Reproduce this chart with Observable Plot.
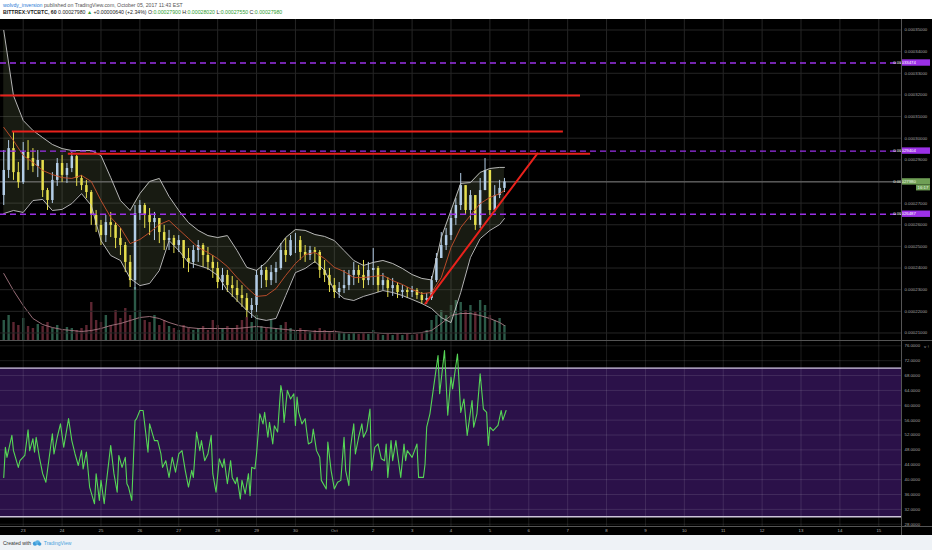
<!DOCTYPE html>
<html>
<head>
<meta charset="utf-8">
<script src="https://cdn.jsdelivr.net/npm/d3@7"></script>
<script src="https://cdn.jsdelivr.net/npm/@observablehq/plot@0.6"></script>
<style>
  html,body{margin:0;padding:0;}
  body{width:932px;height:550px;overflow:hidden;background:#eef2f6;font-family:"Liberation Sans",Arial,sans-serif;position:relative;}
  #hdr{position:absolute;left:0;top:0;width:932px;height:19px;background:#fff;}
  #hdr .ln{position:absolute;left:3px;font-size:5.2px;line-height:6px;white-space:nowrap;color:#555;}
  #hdr .g{color:#2f9e2f;}
  #chart{position:absolute;left:0;top:19px;width:932px;height:515.5px;background:#000;overflow:hidden;}
  .layer{position:absolute;left:0;}
  .layer svg{display:block;overflow:visible;}
  .sep{position:absolute;background:#4a4a4a;}
  #ftr{position:absolute;left:3px;top:539.5px;font-size:5px;line-height:6px;color:#333;white-space:nowrap;}
</style>
</head>
<body>
<div id="hdr">
  <div class="ln" style="top:2.3px"><span style="color:#2b7bd6">wolvdy_inversion</span> published on TradingView.com, October 05, 2017 11:43 EST</div>
  <div class="ln" style="top:9.2px;color:#222"><b>BITTREX:VTCBTC, 60</b> 0.00027980 <span class="g">▲</span> +0.00000640 (+2.34%) O:<span class="g">0.00027900</span> H:<span class="g">0.00028020</span> L:<span class="g">0.00027550</span> C:<span class="g">0.00027980</span></div>
</div>
<div id="chart">
  <div id="vol" class="layer" style="top:0"></div>
  <div id="price" class="layer" style="top:0"></div>
  <div id="rsi" class="layer" style="top:322px"></div>
  <div class="sep" style="left:0;top:321px;width:932px;height:1px;background:#555"></div>
  <div class="sep" style="left:0;top:507px;width:932px;height:1px;background:#555"></div>
  <div class="sep" style="left:901px;top:0;width:1px;height:516px;background:#555"></div>
</div>
<div id="ftr">Created with <svg width="10" height="6" viewBox="0 0 10 6" style="vertical-align:-1px"><circle cx="3" cy="3.6" r="2.2" fill="#3d9bd9"/><circle cx="5.6" cy="2.6" r="2.4" fill="#5fb3e6"/><circle cx="7.6" cy="4" r="1.8" fill="#3d9bd9"/></svg> <span style="color:#4aa3dc">TradingView</span></div>

<script>
// ---------- DATA ----------
// x axis: days since Sep 23 00:00 (labels at midnight)
const dayTicks = [0,1,2,3,4,5,6,7,8,9,10,11,12,13,14,15,16,17,18,19,20,21,22];
const dayLabels = ["23","24","25","26","27","28","29","30","Oct","2","3","4","5","6","7","8","9","10","11","12","13","14","15"];
// price axis ticks (satoshi)
const priceTicks = [21000,22000,23000,24000,25000,26000,27000,28000,29000,30000,31000,32000,33000,34000,35000];
const rsiTicks = [28,32,36,40,44,48,52,56,60,64,68,72,76];

// 3-hour candles starting Sep 22 12:00, prices in satoshi
const firstOpen = 27350;
const candleClose = [28510,29520,28410,27950,29340,29060,28690,28970,27580,27120,
 28050,28830,28280,28600,29150,28140,27810,27490,26430,25970,
 25500,26100,25970,25370,25040,24260,23420,26520,26890,26430,
 26100,26290,25640,25270,25370,25040,25270,24440,24260,24810,
 25040,24580,24260,23980,23330,23660,23190,23050,22730,22590,
 22040,22270,23660,23890,23420,23790,23980,24810,24580,25270,
 25270,24720,24580,24810,24720,23890,23660,23190,22870,23050,
 23190,23660,23890,23660,23420,23890,23980,23190,23420,23050,
 23190,22870,22960,22870,22960,22730,22500,22590,23420,24440,
 25040,25500,26290,26890,27810,26660,27350,25970,27580,28510,
 26660,27350,27680,27980];
const candleHigh = [29430,29890,30260,28880,29800,29890,29520,29430,28970,27680,
 28410,29060,29200,28830,29340,29200,28280,28050,27580,26660,
 26200,26430,26570,26100,25830,25180,24580,26890,27120,26980,
 26750,26570,26290,25970,25740,25500,25500,25270,24900,25040,
 25270,25130,24950,24580,24260,23980,23890,23610,23420,23190,
 22820,22590,23890,24120,24030,24120,24260,25130,25370,25500,
 25600,25460,25040,25000,24950,24810,24350,23980,23520,23330,
 23890,23890,24260,24120,24350,24260,24900,24070,23750,23560,
 23520,23330,23190,23100,23150,23050,22870,22820,23610,24670,
 25640,25830,26660,27210,28370,27810,27580,27350,28140,29060,
 28510,27810,28050,28140];
const candleLow = [26890,28140,28050,27680,27860,28510,28410,28180,27260,26660,
 26980,27770,27950,27910,28410,27770,27580,27210,25970,25640,
 25040,25180,25410,24900,24580,23790,23100,22960,26200,25830,
 25500,25270,25130,24810,24810,24670,24720,23980,23790,23980,
 24260,24030,23890,23520,23050,22960,22870,22640,22410,22180,
 21710,21670,21950,23050,23100,23190,23290,23890,24260,24530,
 24670,24350,24260,24350,24210,23520,23330,22870,22590,22590,
 22820,22960,23190,23290,23050,23190,23190,22870,22960,22640,
 22690,22590,22590,22590,22640,22550,22320,22320,22500,23330,
 24440,24810,25270,25970,26660,26430,26200,25740,25830,27580,
 26430,26570,27210,27490];
const volume = [20,25,18,15,22,14,12,16,14,18,
 12,15,10,13,12,10,12,15,38,20,
 18,25,15,30,22,32,25,53,30,20,
 18,25,15,20,14,12,10,15,12,10,
 12,14,10,20,15,12,14,12,15,20,
 23,18,25,14,12,20,12,15,18,12,
 10,12,10,8,10,12,10,8,10,8,
 8,6,7,6,8,6,10,6,5,6,
 5,7,5,6,5,6,8,10,20,25,
 30,25,35,40,38,30,35,28,40,35,
 25,20,22,15];

// Bollinger bands (20) and volume MA, sampled every 6 hours
const bbUpper = [34980,31970,30820,30360,30030,29710,29520,29430,29430,29430,29200,28180,27120,26660,27440,28000,28140,27310,26660,26100,25740,25500,25410,25500,24810,24030,23890,24260,24810,25410,25780,25740,25550,25460,25270,24810,24350,24120,24260,24350,24210,23980,23700,23520,23450,25410,26660,27910,27950,28420,28600,28650,28650];
const bbMiddle = [30500,29890,29200,28880,28510,28320,28180,28140,28280,28000,27120,26340,25870,25130,25320,25640,26010,26200,25780,25370,24950,24720,24440,24070,23560,23100,22690,22730,23050,23660,24210,24620,24720,24440,24030,23840,23560,23560,23610,23660,23420,23240,23010,22820,22870,23560,24950,25870,26430,26980,27260,27440,27580];
const bbLower = [26520,26660,26570,27120,27170,26660,26710,26980,27440,26890,25270,24580,24350,23520,23190,23290,23890,25270,24810,24260,24120,23980,23660,22960,22500,22040,21670,21580,21670,22730,23790,23980,24300,23890,22960,22590,22500,22690,22820,22960,22870,22730,22550,22360,22130,21710,21480,22870,24490,25360,25740,26010,26290];
const volMA = [67,50,35,22,16,13,11,10,9,10,12,15,17,20,23,24,22,18,15,13,12,12,12,12,12,13,14,13,12,11,10,10,9,9,9,8,8,8,8,7,7,7,7,8,10,17,25,27,27,25,22,18,15];

// drawings
const purpleLevels = [33474, 29404, 26487];
const redLevels = [31970, 30310, 29280];
const redStart = [-0.58, -0.28, 1.16];
const redEnd = [14.33, 13.89, 14.59];
const trendLine = [[10.34, 22360], [13.22, 29290]];
const lastPrice = 27980;
const countdown = "16:17";

// RSI(14): [hour since Sep 22 12:00, value]
const rsiPoints = [[0,40.6],[1,48.7],[2,46.0],[5,51.9],[6,47.8],[9,43.3],[10,45.1],[13,46.5],[15,53.4],[16,47.8],[18,51.0],[19,47.4],[20,51.4],[22,46.0],[24,41.6],[26,39.3],[30,52.3],[31,46.9],[33,51.4],[35,55.0],[37,48.7],[40,56.4],[42,50.5],[44,46.9],[46,43.8],[48,47.8],[49,42.9],[51,47.4],[53,38.0],[56,33.5],[57,41.6],[59,34.4],[60,39.8],[62,33.5],[63,38.0],[66,49.2],[68,41.6],[70,36.6],[71,46.5],[73,43.3],[75,46.0],[76,38.9],[77,38.0],[79,34.4],[81,55.9],[82,56.4],[84,58.6],[86,58.6],[89,47.4],[90,55.0],[93,50.5],[95,50.5],[97,46.9],[98,43.3],[100,45.1],[102,40.6],[104,46.0],[106,42.0],[108,46.9],[110,47.8],[112,42.5],[114,38.0],[116,42.5],[117,40.6],[119,52.8],[121,47.8],[122,50.5],[124,45.1],[126,46.9],[128,51.9],[129,41.6],[131,36.6],[133,45.6],[135,43.3],[136,45.6],[138,38.9],[140,45.1],[141,40.6],[143,38.9],[144,40.6],[146,34.8],[147,39.8],[149,36.2],[151,41.6],[152,35.7],[153,43.3],[155,42.9],[156,46.9],[158,57.7],[160,55.0],[161,58.1],[163,51.4],[164,55.4],[166,49.6],[167,54.5],[169,52.8],[171,65.3],[172,63.1],[173,55.4],[175,64.0],[177,61.7],[179,63.1],[180,54.6],[181,62.2],[182,58.1],[184,55.0],[186,56.4],[187,52.8],[188,49.6],[190,50.1],[191,53.6],[193,47.8],[195,46.0],[196,39.8],[199,37.5],[200,50.1],[202,42.5],[204,37.5],[206,39.3],[208,39.8],[210,51.4],[211,42.5],[213,38.4],[214,48.7],[216,55.0],[217,46.9],[219,51.4],[221,55.0],[222,51.4],[224,53.2],[226,59.0],[227,42.5],[229,48.7],[231,49.6],[233,45.6],[235,45.1],[236,49.6],[237,40.6],[239,50.5],[240,45.1],[242,50.5],[243,46.9],[245,40.6],[247,49.6],[248,45.1],[249,47.8],[252,46.0],[255,49.6],[256,40.6],[259,40.6],[260,44.2],[261,54.1],[263,57.7],[265,64.0],[268,73.4],[269,63.1],[272,74.7],[274,57.3],[276,67.6],[277,64.4],[280,73.8],[282,58.1],[284,61.7],[286,51.9],[289,61.3],[290,54.1],[292,57.7],[294,68.5],[296,59.0],[298,58.1],[299,49.2],[300,54.1],[302,53.2],[305,54.6],[307,58.6],[308,56.0],[310,58.6]];

// ---------- BUILD ----------
const hourToDay = h => -0.5 + h / 24;
const candles = candleClose.map((c, i) => {
  const o = i === 0 ? firstOpen : candleClose[i - 1];
  return {day: hourToDay(i * 3), open: o, close: c,
          high: Math.max(candleHigh[i], o, c), low: Math.min(candleLow[i], o, c),
          vol: volume[i], up: c >= o};
});
const bandHours = d3.range(0, 312, 6).concat([309]);
const bands = bandHours.map((h, k) => ({day: hourToDay(h), upper: bbUpper[k], middle: bbMiddle[k], lower: bbLower[k], vma: volMA[k]}));
const rsi = rsiPoints.map(([h, v]) => ({day: hourToDay(h), v}));
const redLines = redLevels.map((p, i) => ({p, x1: redStart[i], x2: redEnd[i]}));
const trend = trendLine.map(([d, p]) => ({d, p}));
// the last-price label covers the axis tick beneath it
const axisPriceTicks = priceTicks.filter(t => Math.abs(t - lastPrice) > 400);

const X0 = -0.5837, X1 = 22.584;
const W = 932, MR = 31;
const common = {width: W, marginLeft: 0, marginRight: MR, marginTop: 0,
  x: {type: "linear", domain: [X0, X1], axis: null},
  style: {background: "transparent", color: "#a8a8a8", fontFamily: "Liberation Sans, Arial, sans-serif", fontSize: "4.3px", overflow: "visible"}};

const upC = "#b3cde6", dnC = "#e6df4e";
const grid = "#252525";

// volume layer (behind)
const volPlot = Plot.plot({...common, height: 321, marginBottom: 0,
  y: {domain: [0, 321], axis: null},
  marks: [
    Plot.ruleX(candles, {x: "day", y1: 0, y2: "vol", stroke: d => d.up ? "#2c5a48" : "#5c2631", strokeWidth: 2.4}),
    Plot.lineY(bands, {x: "day", y: "vma", stroke: "#a77883", strokeWidth: 0.9})
  ]});
document.getElementById("vol").appendChild(volPlot);

// price layer
const pricePlot = Plot.plot({...common, height: 321, marginBottom: 0,
  y: {domain: [20652, 35485], axis: null},
  marks: [
    Plot.ruleY(priceTicks, {stroke: grid, strokeWidth: 1}),
    Plot.ruleX(dayTicks, {stroke: grid, strokeWidth: 1}),
    Plot.areaY(bands, {x: "day", y1: "lower", y2: "upper", fill: "#8d9e68", fillOpacity: 0.17}),
    Plot.ruleY([lastPrice], {stroke: "#7c7c7c", strokeWidth: 1}),
    Plot.ruleX(candles, {x: "day", y1: "low", y2: "high", stroke: d => d.up ? upC : dnC, strokeWidth: 1}),
    Plot.ruleX(candles, {x: "day", y1: "open", y2: "close", stroke: d => d.up ? upC : dnC, strokeWidth: 2.5}),
    Plot.lineY(bands, {x: "day", y: "upper", stroke: "#c8c8c8", strokeWidth: 0.9}),
    Plot.lineY(bands, {x: "day", y: "lower", stroke: "#c8c8c8", strokeWidth: 0.9}),
    Plot.lineY(bands, {x: "day", y: "middle", stroke: "#c8502c", strokeWidth: 0.9}),
    Plot.ruleY(purpleLevels, {stroke: "#9a30e8", strokeWidth: 1.4, strokeDasharray: "6,4"}),
    Plot.ruleY(redLines, {y: "p", x1: "x1", x2: "x2", stroke: "#e8221c", strokeWidth: 2}),
    Plot.line(trend, {x: "d", y: "p", stroke: "#e8221c", strokeWidth: 2}),
    Plot.axisY(axisPriceTicks, {anchor: "right", tickSize: 0, tickPadding: 3, fontSize: 4.3, fill: "#a8a8a8",
      tickFormat: d => (d / 1e8).toFixed(8)})
  ]});
document.getElementById("price").appendChild(pricePlot);

// price labels on the axis
{
  const ys = pricePlot.scale("y");
  const svg = d3.select(pricePlot);
  const g = svg.append("g").attr("font-size", 4.3).attr("font-family", "Liberation Sans, Arial, sans-serif");
  const xl = W - MR + 1;
  purpleLevels.forEach(v => {
    const y = ys.apply(v);
    g.append("rect").attr("x", xl).attr("y", y - 3.2).attr("width", 28).attr("height", 6.4).attr("fill", "#9b30e6");
    g.append("text").attr("x", xl + 2.5).attr("y", y).attr("dy", "0.35em").attr("fill", "#fff").text((v / 1e8).toFixed(8));
  });
  const y = ys.apply(lastPrice);
  g.append("rect").attr("x", xl).attr("y", y - 3.2).attr("width", 28).attr("height", 6.4).attr("fill", "#6f9f55");
  g.append("text").attr("x", xl + 2.5).attr("y", y).attr("dy", "0.35em").attr("fill", "#eef8e6").text((lastPrice / 1e8).toFixed(8));
  g.append("rect").attr("x", xl + 14).attr("y", y + 3.4).attr("width", 14).attr("height", 5.6).attr("fill", "#6f9f55");
  g.append("text").attr("x", xl + 21).attr("y", y + 6.2).attr("dy", "0.35em").attr("text-anchor", "middle").attr("fill", "#eef8e6").text(countdown);
}

// RSI layer with date axis
const rsiPlot = Plot.plot({...common, height: 193, marginBottom: 8,
  y: {domain: [27.39, 77.16], axis: null},
  marks: [
    Plot.rect([0], {x1: X0, x2: X1, y1: 30, y2: 70, fill: "#2b1149"}),
    Plot.ruleY(rsiTicks, {stroke: "#ffffff", strokeOpacity: 0.11, strokeWidth: 1}),
    Plot.ruleX(dayTicks, {stroke: "#ffffff", strokeOpacity: 0.11, strokeWidth: 1}),
    Plot.ruleY([70, 30], {stroke: "#cdc4da", strokeWidth: 1.4}),
    Plot.line(rsi, {x: "day", y: "v", stroke: "#56d656", strokeWidth: 1.1}),
    Plot.axisY(rsiTicks, {anchor: "right", tickSize: 0, tickPadding: 3, fontSize: 4.3, fill: "#a8a8a8",
      tickFormat: d => d.toFixed(4)}),
    Plot.axisX(dayTicks, {anchor: "bottom", tickSize: 0, tickPadding: 2, fontSize: 4.3, fill: "#b0b0b0",
      label: null, tickFormat: d => dayLabels[d]})
  ]});
document.getElementById("rsi").appendChild(rsiPlot);
</script>
</body>
</html>
